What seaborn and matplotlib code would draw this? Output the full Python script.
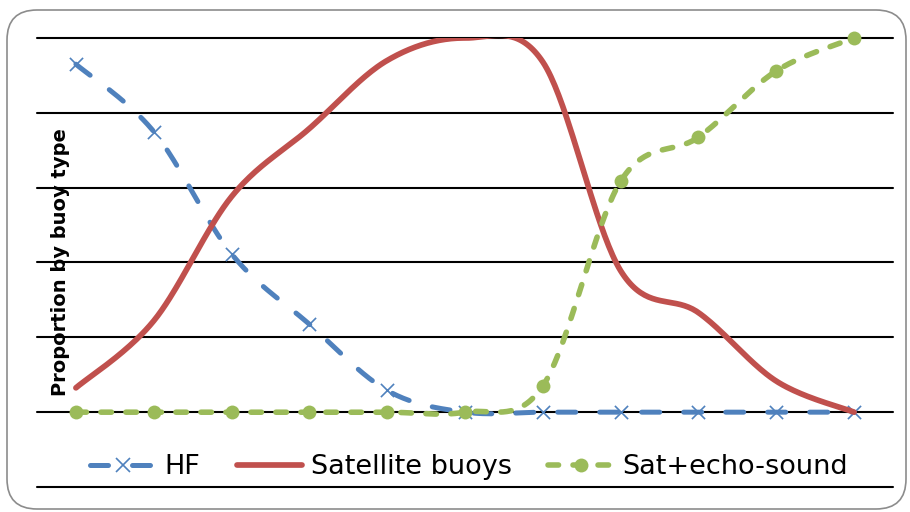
import numpy as np
import pandas as pd
import seaborn as sns
import matplotlib
matplotlib.use("Agg")
import matplotlib.pyplot as plt
from matplotlib.lines import Line2D
from matplotlib.patches import FancyBboxPatch

# ---- data -------------------------------------------------------------
periods = list(range(11))
hf = [0.93, 0.75, 0.423, 0.235, 0.058, 0.0, 0.0, 0.0, 0.0, 0.0, 0.0]
satellite = [0.065, 0.244, 0.576, 0.758, 0.94, 1.0, 0.936, 0.378, 0.266, 0.083, 0.0]
sat_echo = [0.0, 0.0, 0.0, 0.0, 0.0, 0.0, 0.07, 0.617, 0.735, 0.912, 1.0]
series_names = ["HF", "Satellite buoys", "Sat+echo-sound"]
y_grid = [-0.2, 0.0, 0.2, 0.4, 0.6, 0.8, 1.0]
y_label = "Proportion by buoy type"

BLUE, RED, GREEN = "#4F81BD", "#C0504D", "#9BBB59"

sns.set_style("white")
plt.rcParams["font.family"] = ["DejaVu Sans"]
plt.rcParams["text.color"] = "black"


def smooth_curve(xs, ys, n=40):
    """Spreadsheet-style smoothed line (Catmull-Rom as cubic Bezier)."""
    xs = np.asarray(xs, float)
    ys = np.asarray(ys, float)
    px = np.concatenate([[xs[0]], xs, [xs[-1]]])
    py = np.concatenate([[ys[0]], ys, [ys[-1]]])
    out_x, out_y = [], []
    t = np.linspace(0, 1, n)
    for i in range(len(xs) - 1):
        segs = []
        for p in (px, py):
            p0, p1, p2, p3 = p[i], p[i + 1], p[i + 2], p[i + 3]
            c1 = p1 + (p2 - p0) / 6.0
            c2 = p2 - (p3 - p1) / 6.0
            b = ((1 - t) ** 3 * p1 + 3 * (1 - t) ** 2 * t * c1
                 + 3 * (1 - t) * t ** 2 * c2 + t ** 3 * p2)
            segs.append(b if i == 0 else b[1:])
        out_x.append(segs[0])
        out_y.append(segs[1])
    return np.concatenate(out_x), np.concatenate(out_y)


fig = plt.figure(figsize=(9.10, 5.12), dpi=100)
ax = fig.add_axes([37 / 910, 1 - 487 / 512, (893 - 37) / 910, (487 - 38) / 512])

# rounded chart-area border
border = FancyBboxPatch((0.07, 0.03), 8.99, 4.99,
                        boxstyle="round,pad=0,rounding_size=0.3",
                        transform=fig.dpi_scale_trans, facecolor="none",
                        edgecolor="#8C8C8C", linewidth=1.2, zorder=0)
fig.patches.append(border)

ax.set_xlim(-0.5, 10.5)
ax.set_ylim(-0.2, 1.0)
for yv in y_grid:
    ax.axhline(yv, color="black", lw=1.5, zorder=1, clip_on=False)

styles = [
    dict(values=hf, color=BLUE, lw=3.6, ls=(0, (3.6, 4.8)),
         marker="x", ms=9.5, mew=1.2),
    dict(values=satellite, color=RED, lw=4.1, ls="-",
         marker=None, ms=0, mew=0),
    dict(values=sat_echo, color=GREEN, lw=4.0, ls=(0, (1.9, 2.6)),
         marker="o", ms=10, mew=0),
]

for z, (name, st) in enumerate(zip(series_names, styles)):
    sx, sy = smooth_curve(periods, st["values"])
    df = pd.DataFrame({"period": sx, "share": sy})
    sns.lineplot(data=df, x="period", y="share", ax=ax, color=st["color"],
                 linewidth=st["lw"], linestyle=st["ls"],
                 dash_capstyle="round", solid_capstyle="round",
                 estimator=None, sort=False, zorder=3 + 2 * z, legend=False)
    if st["marker"]:
        pts = pd.DataFrame({"period": periods, "share": st["values"]})
        sns.scatterplot(data=pts, x="period", y="share", ax=ax,
                        marker=st["marker"], s=st["ms"] ** 2,
                        color=st["color"], linewidth=st["mew"],
                        clip_on=False, zorder=4 + 2 * z, legend=False)

ax.set_xticks([])
ax.set_yticks([])
ax.set_xlabel("")
ax.set_ylabel("")
for sp in ax.spines.values():
    sp.set_visible(False)

fig.text(61 / 910, 1 - 262.5 / 512, y_label, rotation=90, ha="center",
         va="center", fontsize=14, fontweight="bold", color="black")

handles = []
for name, st in zip(series_names, styles):
    handles.append(Line2D([], [], color=st["color"], lw=st["lw"],
                          linestyle=st["ls"], dash_capstyle="round",
                          solid_capstyle="round",
                          marker=st["marker"] if st["marker"] else None,
                          markersize=st["ms"],
                          markeredgewidth=st["mew"] if st["marker"] == "x" else 0,
                          markerfacecolor=st["color"],
                          markeredgecolor=st["color"]))
leg = fig.legend(handles, series_names, loc="center",
                 bbox_to_anchor=(469 / 910, 1 - 467 / 512), ncol=3,
                 frameon=False, fontsize=19.5, handlelength=2.4,
                 handletextpad=0.33, columnspacing=1.35, borderpad=0,
                 borderaxespad=0, labelcolor="black")

fig.savefig("out.png", dpi=100)
